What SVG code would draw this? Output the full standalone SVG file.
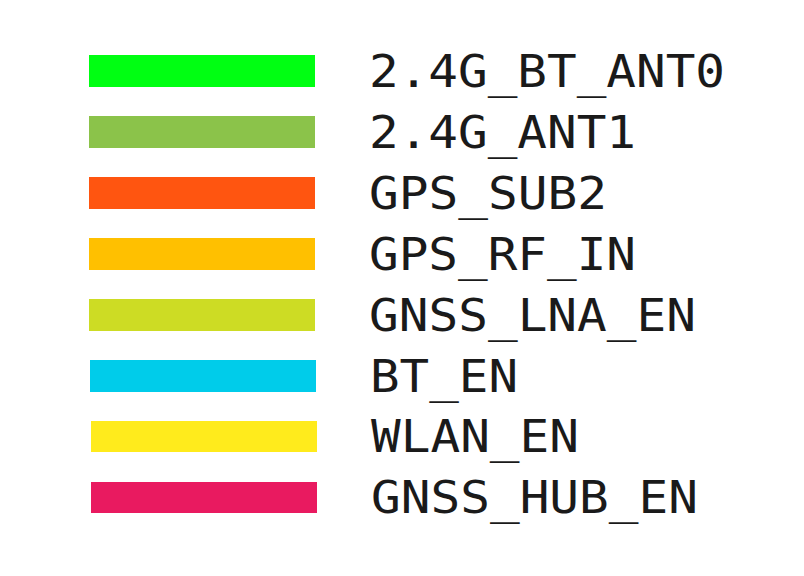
<svg xmlns="http://www.w3.org/2000/svg" width="804" height="576" viewBox="0 0 804 576">
<style>
.bar{stroke:none}
.lbl{font-family:"DejaVu Sans Mono","Liberation Mono",monospace;font-size:44px;fill:#1a1a1a}
</style>
<rect width="804" height="576" fill="#ffffff"/>
<g id="item1"><rect class="bar" x="89" y="55" width="226" height="32" fill="#00ff12"/><text class="lbl" x="369" y="87" textLength="356" lengthAdjust="spacingAndGlyphs">2.4G_BT_ANT0</text></g>
<g id="item2"><rect class="bar" x="89" y="116" width="226" height="32" fill="#8bc34a"/><text class="lbl" x="369" y="148" textLength="267" lengthAdjust="spacingAndGlyphs">2.4G_ANT1</text></g>
<g id="item3"><rect class="bar" x="89" y="177" width="226" height="32" fill="#ff5510"/><text class="lbl" x="369" y="209" textLength="238" lengthAdjust="spacingAndGlyphs">GPS_SUB2</text></g>
<g id="item4"><rect class="bar" x="89" y="238" width="226" height="32" fill="#ffc000"/><text class="lbl" x="369" y="270" textLength="267" lengthAdjust="spacingAndGlyphs">GPS_RF_IN</text></g>
<g id="item5"><rect class="bar" x="89" y="299" width="226" height="32" fill="#cddc24"/><text class="lbl" x="369" y="331" textLength="327" lengthAdjust="spacingAndGlyphs">GNSS_LNA_EN</text></g>
<g id="item6"><rect class="bar" x="90" y="360" width="226" height="32" fill="#00ccea"/><text class="lbl" x="370" y="392" textLength="148" lengthAdjust="spacingAndGlyphs">BT_EN</text></g>
<g id="item7"><rect class="bar" x="91" y="421" width="226" height="31" fill="#ffeb1c"/><text class="lbl" x="371" y="452" textLength="208" lengthAdjust="spacingAndGlyphs">WLAN_EN</text></g>
<g id="item8"><rect class="bar" x="91" y="482" width="226" height="31" fill="#e91a60"/><text class="lbl" x="371" y="513" textLength="327" lengthAdjust="spacingAndGlyphs">GNSS_HUB_EN</text></g>
</svg>
